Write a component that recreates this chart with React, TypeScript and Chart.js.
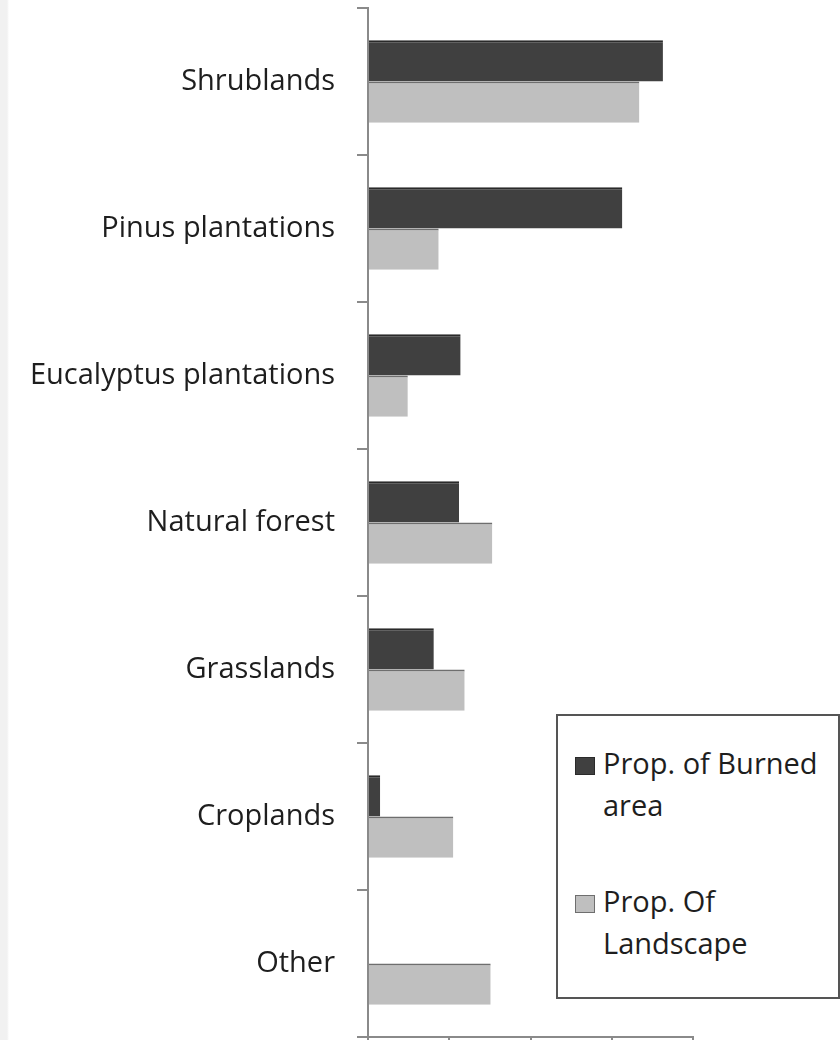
import React, { useEffect, useRef } from "react";
import { Chart, registerables } from "chart.js";
Chart.register(...registerables);

const categories = [
  "Shrublands",
  "Pinus plantations",
  "Eucalyptus plantations",
  "Natural forest",
  "Grasslands",
  "Croplands",
  "Other",
];
const burnedArea = [36.3, 31.3, 11.4, 11.2, 8.1, 1.5, 0];
const landscape = [33.4, 8.7, 4.9, 15.3, 11.9, 10.5, 15.1];
const seriesNames = ["Prop. of Burned area", "Prop. Of Landscape"];
const seriesColors = ["#404040", "#bfbfbf"];
const seriesEdges = ["#2a2a2a", "#6e6e6e"];
const xMin = 0;
const xMax = 40;
const xStep = 10;

const FONT = "'Open Sans', 'Noto Sans', sans-serif";
const FONT_SIZE = 29;

export default function App() {
  const ref = useRef<HTMLCanvasElement | null>(null);

  useEffect(() => {
    document.body.style.margin = "0";
    const ctx = ref.current!.getContext("2d")!;
    const chart = new Chart(ctx, {
      type: "bar",
      data: {
        labels: categories,
        datasets: [
          {
            label: seriesNames[0],
            data: burnedArea,
            backgroundColor: seriesColors[0],
            borderColor: seriesEdges[0],
            borderWidth: { top: 2, right: 0, bottom: 0, left: 0 },
            borderSkipped: false,
            categoryPercentage: 0.56,
            barPercentage: 1,
          },
          {
            label: seriesNames[1],
            data: landscape,
            backgroundColor: seriesColors[1],
            borderColor: seriesEdges[1],
            borderWidth: { top: 2, right: 0, bottom: 0, left: 0 },
            borderSkipped: false,
            categoryPercentage: 0.56,
            barPercentage: 1,
          },
        ],
      },
      options: {
        indexAxis: "y",
        responsive: false,
        animation: false,
        layout: { padding: { top: 8, right: 147, bottom: 0, left: 0 } },
        plugins: {
          legend: { display: false },
          tooltip: { enabled: false },
        },
        scales: {
          x: {
            min: xMin,
            max: xMax,
            afterFit: (s: any) => {
              s.paddingLeft = 0;
              s.paddingRight = 0;
            },
            ticks: { display: false, stepSize: xStep },
            grid: {
              drawOnChartArea: false,
              drawTicks: true,
              tickLength: 3,
              color: "#8a8a8a",
              lineWidth: 2,
            },
            border: { color: "#8a8a8a", width: 2 },
          },
          y: {
            afterFit: (s: any) => {
              s.width = 368;
              s.paddingTop = 0;
              s.paddingBottom = 0;
            },
            ticks: {
              color: "#1e1e1e",
              font: { family: FONT, size: FONT_SIZE },
              padding: 22,
            },
            grid: {
              drawOnChartArea: false,
              drawTicks: true,
              tickLength: 11,
              offset: true,
              color: "#8a8a8a",
              lineWidth: 2,
            },
            border: { color: "#8a8a8a", width: 2 },
          },
        },
      },
    });
    return () => chart.destroy();
  }, []);

  const legendItems = seriesNames.map((name, i) => ({
    name,
    color: seriesColors[i],
    edge: seriesEdges[i],
  }));

  return (
    <div
      style={{
        position: "relative",
        width: 840,
        height: 1040,
        overflow: "hidden",
        background: "linear-gradient(to right, #f1f1f1 0px, #f1f1f1 7px, #ffffff 9px)",
      }}
    >
      <canvas ref={ref} width={840} height={1040} style={{ display: "block" }} />
      <div
        style={{
          position: "absolute",
          left: 556,
          top: 714,
          width: 280,
          height: 281,
          border: "2px solid #555",
          background: "#fff",
          fontFamily: FONT,
          fontSize: FONT_SIZE,
          color: "#1e1e1e",
        }}
      >
        {legendItems.map((it, i) => (
          <div
            key={it.name}
            style={{
              position: "absolute",
              left: 0,
              top: i === 0 ? 26 : 164,
              width: 280,
            }}
          >
            <div
              style={{
                position: "absolute",
                left: 17,
                top: 15,
                width: 18,
                height: 16,
                background: it.color,
                border: `1px solid ${it.edge}`,
              }}
            />
            <div
              style={{
                position: "absolute",
                left: 45,
                top: 0,
                width: 232,
                lineHeight: "42px",
                whiteSpace: "normal",
              }}
            >
              {it.name}
            </div>
          </div>
        ))}
      </div>
    </div>
  );
}
